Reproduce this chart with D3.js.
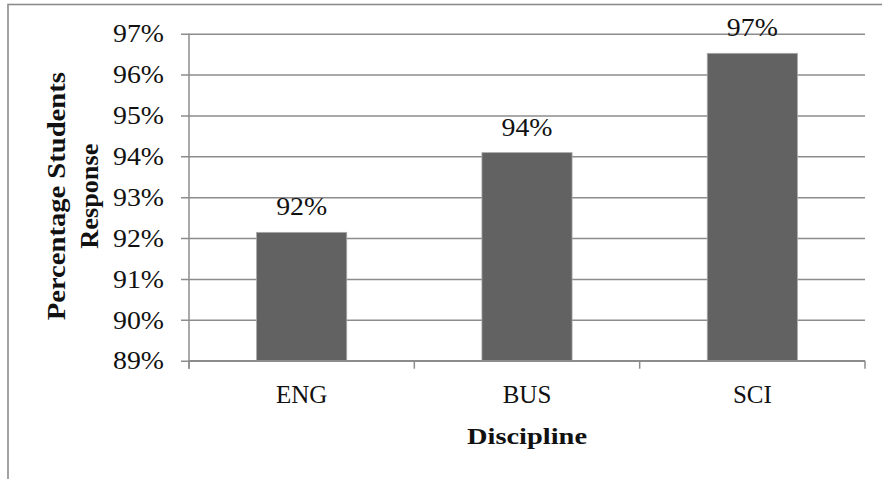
<!DOCTYPE html>
<html>
<head>
<meta charset="utf-8">
<script src="https://cdn.jsdelivr.net/npm/d3@7"></script>
<style>
  html, body { margin: 0; padding: 0; background: #fff; }
  svg { display: block; }
</style>
</head>
<body>
<svg id="chart" width="882" height="479"></svg>
<script>
const categories = ["ENG", "BUS", "SCI"];
const values = [92.14, 94.09, 96.52];
const valueLabels = ["92%", "94%", "97%"];
const yTicks = [89, 90, 91, 92, 93, 94, 95, 96, 97];
const yTickLabels = ["89%", "90%", "91%", "92%", "93%", "94%", "95%", "96%", "97%"];
const xTitle = "Discipline";
const yTitleLines = ["Percentage Students", "Response"];

(function () {
const svg = d3.select("#chart");
const serif = "'Liberation Serif', 'Times New Roman', serif";
const gridColor = "#8c8c8c";

// outer frame (cropped at right and bottom)
svg.append("rect")
  .attr("x", 8).attr("y", 4.5)
  .attr("width", 900).attr("height", 500)
  .attr("fill", "none").attr("stroke", "#8c8c8c").attr("stroke-width", 1.6);

const pL = 189, pR = 865, pT = 33.7, pB = 360.7;

const x = d3.scaleBand().domain(categories).range([pL, pR]).paddingInner(0.6).paddingOuter(0.3);
const xOuter = d3.scaleBand().domain(categories).range([pL, pR]);
const y = d3.scaleLinear().domain([89, 97]).range([pB, pT]);

// gridlines + y ticks
const yAxis = d3.axisLeft(y).tickValues(yTicks).tickSize(-(pR - pL)).tickPadding(17)
  .tickFormat((d, i) => yTickLabels[i]);
const gy = svg.append("g").attr("transform", `translate(${pL},0)`).call(yAxis);
gy.select(".domain").remove();
gy.selectAll(".tick line").attr("stroke", gridColor).attr("stroke-width", 1.5)
  .attr("x1", -8);
gy.selectAll(".tick text").attr("x", -25)
  .style("font-family", serif).style("font-size", "25px").attr("fill", "#111").attr("dy", "0.33em")
  .attr("textLength", 51).attr("lengthAdjust", "spacingAndGlyphs");

// y axis line
svg.append("line").attr("x1", pL).attr("x2", pL).attr("y1", pT).attr("y2", pB + 8)
  .attr("stroke", gridColor).attr("stroke-width", 1.5);

// bars
svg.append("g").selectAll("rect").data(categories).join("rect")
  .attr("x", d => x(d))
  .attr("width", x.bandwidth())
  .attr("y", (d, i) => y(values[i]))
  .attr("height", (d, i) => y(89) - y(values[i]))
  .attr("fill", "#626262")
  .attr("stroke", "#a8a8a8").attr("stroke-width", 0.8);

// x axis line and ticks
svg.append("line").attr("x1", pL).attr("x2", pR).attr("y1", pB).attr("y2", pB)
  .attr("stroke", gridColor).attr("stroke-width", 1.5);
const xTickPos = categories.map(c => xOuter(c)).concat([pR]);
svg.append("g").selectAll("line").data(xTickPos).join("line")
  .attr("x1", d => d).attr("x2", d => d).attr("y1", pB).attr("y2", pB + 8)
  .attr("stroke", gridColor).attr("stroke-width", 1.5);

// category labels
svg.append("g").selectAll("text").data(categories).join("text")
  .attr("x", d => xOuter(d) + xOuter.bandwidth() / 2)
  .attr("y", 403)
  .attr("text-anchor", "middle")
  .style("font-family", serif).style("font-size", "25px").attr("fill", "#111")
  .text(d => d);

// value labels
svg.append("g").selectAll("text").data(categories).join("text")
  .attr("x", d => x(d) + x.bandwidth() / 2)
  .attr("y", (d, i) => y(values[i]) - 17)
  .attr("text-anchor", "middle")
  .style("font-family", serif).style("font-size", "25px").attr("fill", "#111")
  .attr("textLength", 51).attr("lengthAdjust", "spacingAndGlyphs")
  .text((d, i) => valueLabels[i]);

// x title
svg.append("text")
  .attr("x", (pL + pR) / 2).attr("y", 444)
  .attr("text-anchor", "middle")
  .style("font-family", serif).style("font-size", "23px").style("font-weight", "bold").attr("fill", "#111")
  .attr("textLength", 120).attr("lengthAdjust", "spacingAndGlyphs")
  .text(xTitle);

// y title (two lines, rotated)
const yMid = (pT + pB) / 2 - 1;
const yTitleBase = [65, 98];
const yTitleLen = [248, 105];
yTitleLines.forEach((t, i) => {
  svg.append("text")
    .attr("transform", `translate(${yTitleBase[i]},${yMid}) rotate(-90)`)
    .attr("text-anchor", "middle")
    .style("font-family", serif).style("font-size", "25px").style("font-weight", "bold").attr("fill", "#111")
    .attr("textLength", yTitleLen[i]).attr("lengthAdjust", "spacingAndGlyphs")
    .text(t);
});
})();
</script>
</body>
</html>
